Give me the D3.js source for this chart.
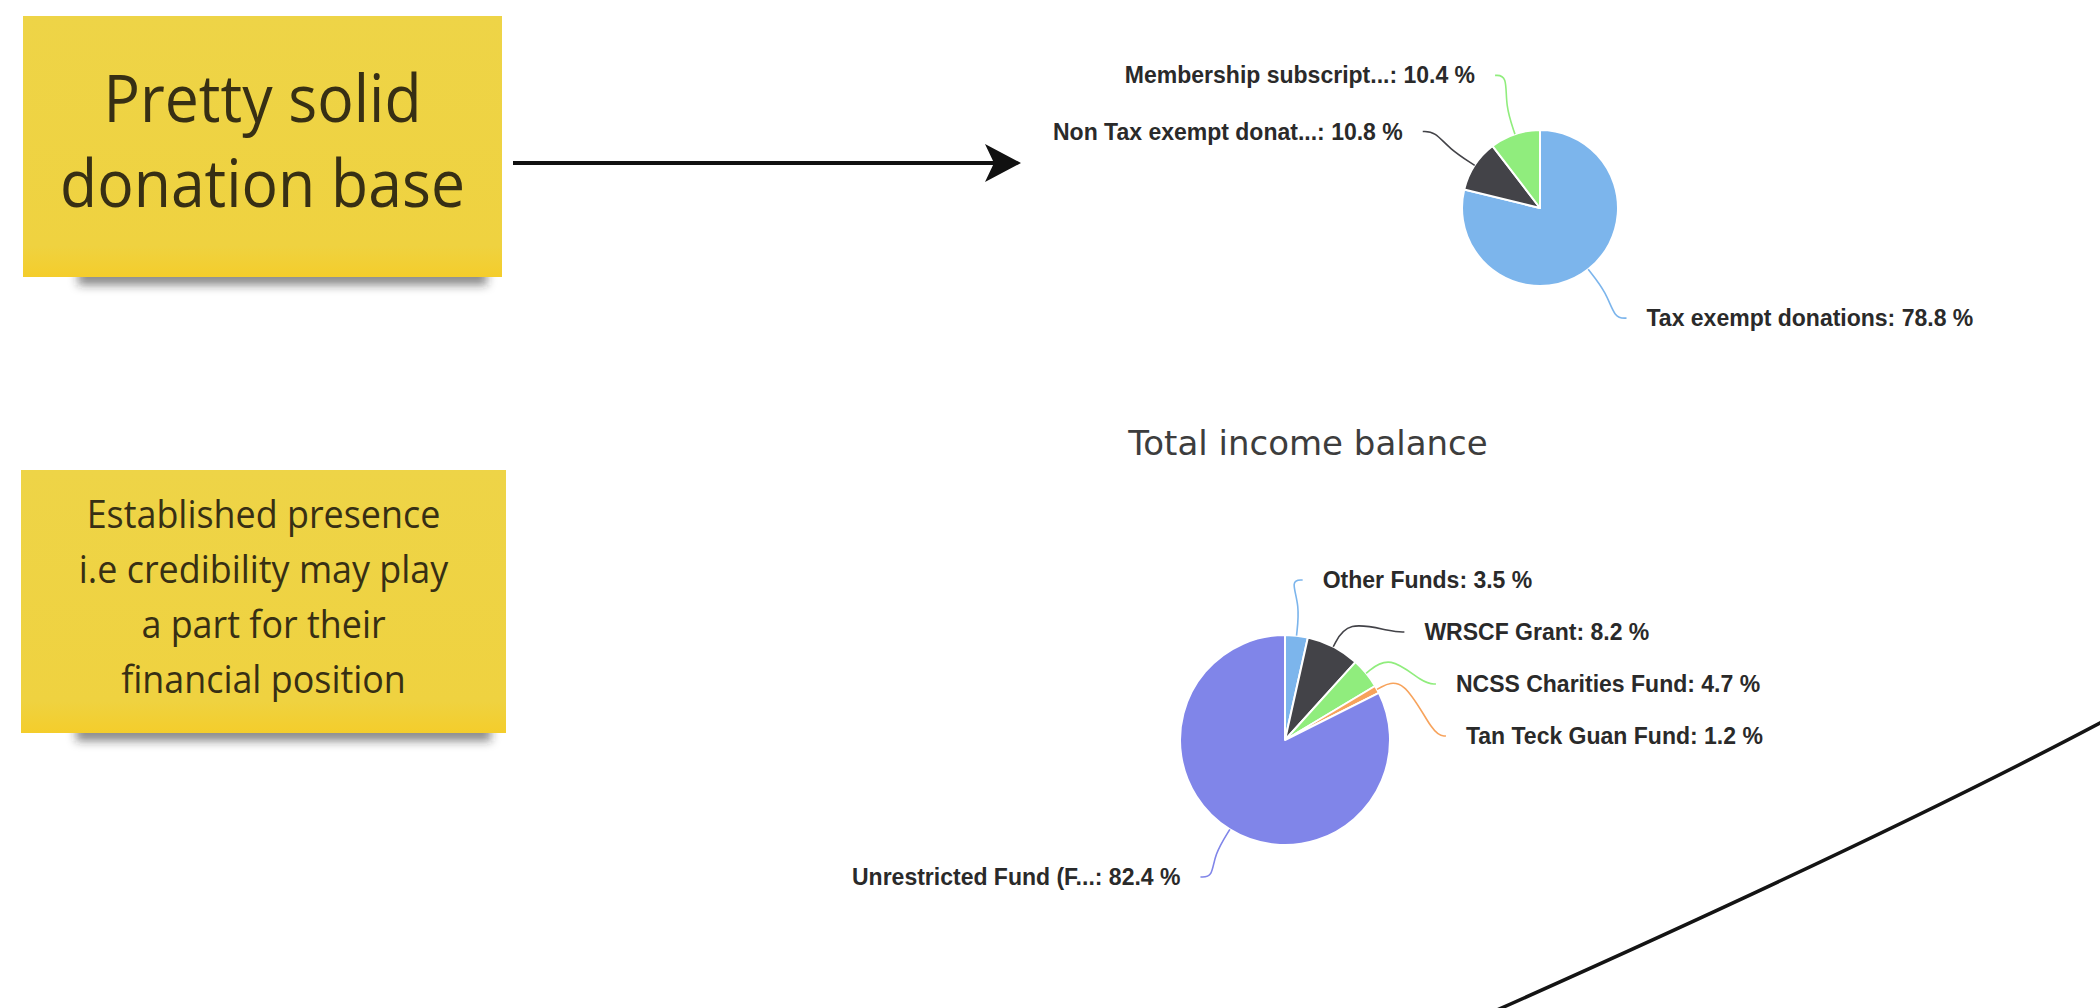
<!DOCTYPE html>
<html>
<head>
<meta charset="utf-8">
<script src="https://cdn.jsdelivr.net/npm/d3@7"></script>
<style>
  html, body { margin: 0; padding: 0; background: #fff; }
  svg { display: block; }
</style>
</head>
<body>
<svg width="2100" height="1008"></svg>
<script>
// pie data
const donationCategories = ['Tax exempt donations', 'Non Tax exempt donat...', 'Membership subscript...'];
const donationShares = [78.8, 10.8, 10.4];

const balanceTitle = 'Total income balance';
const balanceCategories = ['Other Funds', 'WRSCF Grant', 'NCSS Charities Fund', 'Tan Teck Guan Fund', 'Unrestricted Fund (F...'];
const balanceShares = [3.5, 8.2, 4.7, 1.2, 82.4];

const pieColors = ['#7cb5ec', '#434348', '#90ed7d', '#f7a35c', '#8085e9'];

const noteLines1 = ['Pretty solid', 'donation base'];
const noteLines2 = ['Established presence', 'i.e credibility may play', 'a part for their', 'financial position'];

let svg = d3.select('svg');
let defs = svg.append('defs');

defs.append('filter')
  .attr('id', 'blur')
  .attr('x', '-10%').attr('y', '-100%')
  .attr('width', '120%').attr('height', '300%')
  .append('feGaussianBlur')
  .attr('stdDeviation', 5);

let grad = defs.append('linearGradient')
  .attr('id', 'sticky')
  .attr('x1', 0).attr('y1', 0).attr('x2', 0).attr('y2', 1);
grad.append('stop').attr('offset', '0%').attr('stop-color', '#eed447');
grad.append('stop').attr('offset', '88%').attr('stop-color', '#efd240');
grad.append('stop').attr('offset', '100%').attr('stop-color', '#f4cd2b');

// sticky notes
const drawNote = (x, y, w, h, lines, fontSize, lineGap, firstBaseline) => {
  let g = svg.append('g');

  g.append('rect')
    .attr('x', x + 55)
    .attr('y', y + h - 8)
    .attr('width', w - 70)
    .attr('height', 16)
    .attr('fill', 'rgba(40,40,40,0.55)')
    .attr('filter', 'url(#blur)');

  g.append('rect')
    .attr('x', x)
    .attr('y', y)
    .attr('width', w)
    .attr('height', h)
    .attr('fill', 'url(#sticky)');

  let t = g.append('g')
    .attr('transform', `translate(${x + w / 2}, 0) scale(0.92, 1)`);

  t.selectAll('text')
    .data(lines)
    .enter()
    .append('text')
    .attr('x', 0)
    .attr('y', (d, i) => firstBaseline + i * lineGap)
    .attr('text-anchor', 'middle')
    .attr('font-family', '"Open Sans", sans-serif')
    .attr('font-size', fontSize)
    .attr('fill', '#372f14')
    .text(d => d);
};

drawNote(23, 16, 479, 261, noteLines1, 66, 85, 122);
drawNote(21, 470, 485, 263, noteLines2, 39, 55, 528);

// arrow from the first note
svg.append('line')
  .attr('x1', 513).attr('y1', 163)
  .attr('x2', 996).attr('y2', 163)
  .attr('stroke', '#111')
  .attr('stroke-width', 4);

svg.append('path')
  .attr('d', 'M985,144 L1021,163 L985,182 L994,163 Z')
  .attr('fill', '#111');

// long curve in the corner
svg.append('path')
  .attr('d', 'M1497,1010 Q1879,840 2102,722')
  .attr('fill', 'none')
  .attr('stroke', '#141414')
  .attr('stroke-width', 3.5);

const fmt = d3.format('.1f');

const drawPie = (cfg) => {
  let data = cfg.names.map((n, i) => ({name: n, value: cfg.values[i], color: pieColors[i]}));

  let pie = d3.pie().sort(null).value(d => d.value);
  let arcs = pie(data);

  let arc = d3.arc().innerRadius(0).outerRadius(cfg.r);

  let g = svg.append('g')
    .attr('transform', `translate(${cfg.cx}, ${cfg.cy})`);

  g.selectAll('path.slice')
    .data(arcs)
    .enter()
    .append('path')
    .attr('class', 'slice')
    .attr('d', arc)
    .attr('fill', d => d.data.color)
    .attr('stroke', '#fff')
    .attr('stroke-width', 2)
    .attr('stroke-linejoin', 'round');

  // label layout: spread along a larger circle, pushed apart per side
  let items = arcs.map(a => {
    let mid = (a.startAngle + a.endAngle) / 2;
    return {
      a: a,
      mid: mid,
      side: Math.sin(mid) >= 0 ? 1 : -1,
      y: -cfg.labelR * Math.cos(mid)
    };
  });

  [1, -1].forEach(side => {
    let list = items.filter(d => d.side === side).sort((p, q) => p.y - q.y);
    for (let i = 1; i < list.length; i++) {
      list[i].y = Math.max(list[i].y, list[i - 1].y + cfg.gap);
    }
  });

  items.forEach(d => {
    let dy = Math.max(-cfg.labelR, Math.min(cfg.labelR, d.y));
    d.x = d.side * Math.sqrt(cfg.labelR * cfg.labelR - dy * dy);
  });

  let line = d3.line().curve(d3.curveBasis);

  g.selectAll('path.connector')
    .data(items)
    .enter()
    .append('path')
    .attr('class', 'connector')
    .attr('d', d => {
      let s = Math.sin(d.mid), c = -Math.cos(d.mid);
      let edge = [s * cfg.r, c * cfg.r];
      let bend = [s * (cfg.r + cfg.bend), c * (cfg.r + cfg.bend)];
      let stub = [d.x - d.side * 12, d.y];
      return line([edge, bend, stub, [d.x, d.y]]);
    })
    .attr('fill', 'none')
    .attr('stroke', d => d.a.data.color)
    .attr('stroke-width', 1.6);

  g.selectAll('text.label')
    .data(items)
    .enter()
    .append('text')
    .attr('class', 'label')
    .attr('x', d => d.x + d.side * 20)
    .attr('y', d => d.y)
    .attr('dy', '0.35em')
    .attr('text-anchor', d => d.side > 0 ? 'start' : 'end')
    .attr('font-family', '"Liberation Sans", Arial, sans-serif')
    .attr('font-weight', 'bold')
    .attr('font-size', 23)
    .attr('fill', '#2a2a2a')
    .text(d => `${d.a.data.name}: ${fmt(d.a.data.value)} %`);
};

drawPie({cx: 1540, cy: 208, r: 78, labelR: 140, gap: 52, bend: 30,
  names: donationCategories, values: donationShares});

svg.append('text')
  .attr('x', 1308)
  .attr('y', 455)
  .attr('text-anchor', 'middle')
  .attr('font-family', '"DejaVu Sans", sans-serif')
  .attr('font-size', 34)
  .attr('fill', '#3d3d3d')
  .text(balanceTitle);

drawPie({cx: 1285, cy: 740, r: 105, labelR: 161, gap: 52, bend: 30,
  names: balanceCategories, values: balanceShares});
</script>
</body>
</html>
